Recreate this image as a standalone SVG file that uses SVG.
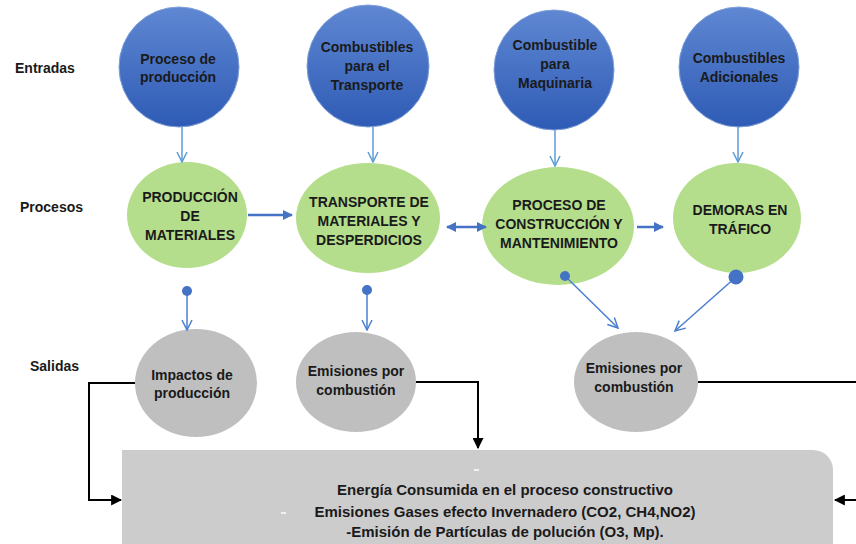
<svg xmlns="http://www.w3.org/2000/svg" width="856" height="544" viewBox="0 0 856 544">
<defs>
<linearGradient id="gBlue" x1="0" y1="0" x2="0" y2="1">
<stop offset="0" stop-color="#5f87d2"/>
<stop offset="1" stop-color="#2e5bb5"/>
</linearGradient>
<marker id="openArrow" viewBox="0 0 12 12" refX="11" refY="6" markerWidth="12" markerHeight="12" markerUnits="userSpaceOnUse" orient="auto">
<path d="M1,1 L11,6 L1,11" fill="none" stroke="#5b9bd5" stroke-width="1.5"/>
</marker>
<marker id="openArrow2" viewBox="0 0 12 12" refX="11" refY="6" markerWidth="12" markerHeight="12" markerUnits="userSpaceOnUse" orient="auto">
<path d="M1,1 L11,6 L1,11" fill="none" stroke="#4a7fd0" stroke-width="1.5"/>
</marker>
<marker id="dot" viewBox="0 0 12 12" refX="6" refY="6" markerWidth="10" markerHeight="10" markerUnits="userSpaceOnUse" orient="auto">
<circle cx="6" cy="6" r="6" fill="#4472c4"/>
</marker>
<marker id="dotBig" viewBox="0 0 12 12" refX="6" refY="6" markerWidth="15" markerHeight="15" markerUnits="userSpaceOnUse" orient="auto">
<circle cx="6" cy="6" r="6" fill="#4472c4"/>
</marker>
<marker id="solidBlue" viewBox="0 0 10 10" refX="9" refY="5" markerWidth="11" markerHeight="10" markerUnits="userSpaceOnUse" orient="auto-start-reverse">
<path d="M0,0 L10,5 L0,10 Z" fill="#4472c4"/>
</marker>
<marker id="solidBlack" viewBox="0 0 10 10" refX="9" refY="5" markerWidth="11" markerHeight="11" markerUnits="userSpaceOnUse" orient="auto">
<path d="M0,0 L10,5 L0,10 Z" fill="#000"/>
</marker>
</defs>
<style>
text{font-family:"Liberation Sans",Arial,sans-serif;font-weight:bold;fill:#1a1a1a;text-anchor:middle;font-size:14px}
.lbl{text-anchor:start}
.box{font-size:15px}
.inp{fill:url(#gBlue);stroke:#7f9fd8;stroke-width:1}
.proc{fill:#b4de8b}
.out{fill:#bfbfbf}
.lin{stroke:#5b9bd5;stroke-width:1.5;fill:none;marker-end:url(#openArrow)}
.olin{stroke:#4a7fd0;stroke-width:1.5;fill:none;marker-end:url(#openArrow2)}
.harr{stroke:#4472c4;stroke-width:2.5;fill:none}
.blk{stroke:#000;stroke-width:2;fill:none;marker-end:url(#solidBlack)}
</style>
<rect width="856" height="544" fill="#fff"/>

<g id="labels">
<text class="lbl" x="15" y="73">Entradas</text>
<text class="lbl" x="20" y="212">Procesos</text>
<text class="lbl" x="30" y="371">Salidas</text>
</g>

<g id="box">
<path d="M122,450 H813 A20,20 0 0 1 833,470 V560 H122 Z" fill="#cdcccd"/>
<line x1="281" y1="513" x2="286" y2="513" stroke="#fff" stroke-width="1.5"/>
<line x1="474" y1="470" x2="479" y2="470" stroke="#fff" stroke-width="1.5"/>
<text class="box" x="505" y="495">Energía Consumida en el proceso constructivo</text>
<text class="box" x="505" y="517">Emisiones Gases efecto Invernadero (CO2, CH4,NO2)</text>
<text class="box" x="505" y="537">-Emisión de Partículas de polución (O3, Mp).</text>
</g>

<g id="in1">
<circle class="inp" cx="179" cy="67" r="60"/>
<text x="178" y="64">Proceso de</text>
<text x="178" y="82">producción</text>
</g>
<g id="in2">
<circle class="inp" cx="368" cy="66" r="61"/>
<text x="367" y="52">Combustibles</text>
<text x="367" y="71">para el</text>
<text x="367" y="90">Transporte</text>
</g>
<g id="in3">
<circle class="inp" cx="554" cy="70" r="60"/>
<text x="555" y="50">Combustible</text>
<text x="555" y="69">para</text>
<text x="555" y="88">Maquinaria</text>
</g>
<g id="in4">
<circle class="inp" cx="739" cy="67" r="60"/>
<text x="739" y="63">Combustibles</text>
<text x="739" y="82">Adicionales</text>
</g>

<g id="p1">
<ellipse class="proc" cx="187" cy="215" rx="60" ry="53"/>
<text x="190" y="202">PRODUCCIÓN</text>
<text x="190" y="221">DE</text>
<text x="190" y="240">MATERIALES</text>
</g>
<g id="p2">
<ellipse class="proc" cx="368" cy="218" rx="72" ry="55"/>
<text x="369" y="207">TRANSPORTE DE</text>
<text x="369" y="226">MATERIALES Y</text>
<text x="369" y="245">DESPERDICIOS</text>
</g>
<g id="p3">
<ellipse class="proc" cx="558" cy="226" rx="76" ry="59"/>
<text x="559" y="210">PROCESO DE</text>
<text x="559" y="229">CONSTRUCCIÓN Y</text>
<text x="559" y="248">MANTENIMIENTO</text>
</g>
<g id="p4">
<ellipse class="proc" cx="737" cy="218" rx="64" ry="55"/>
<text x="740" y="215">DEMORAS EN</text>
<text x="740" y="234">TRÁFICO</text>
</g>

<g id="o1">
<ellipse class="out" cx="196" cy="383" rx="61" ry="54"/>
<text x="192" y="380">Impactos de</text>
<text x="192" y="398">producción</text>
</g>
<g id="o2">
<ellipse class="out" cx="356" cy="382" rx="60" ry="50"/>
<text x="356" y="376">Emisiones por</text>
<text x="356" y="395">combustión</text>
</g>
<g id="o3">
<ellipse class="out" cx="636" cy="382" rx="62" ry="50"/>
<text x="634" y="373">Emisiones por</text>
<text x="634" y="392">combustión</text>
</g>

<g id="connectors">
<line class="lin" x1="182" y1="127" x2="182" y2="162"/>
<line class="lin" x1="373" y1="127" x2="373" y2="162"/>
<line class="lin" x1="555" y1="130" x2="555" y2="166"/>
<line class="lin" x1="738" y1="127" x2="738" y2="162"/>
<line class="harr" x1="248" y1="215" x2="292" y2="215" marker-end="url(#solidBlue)"/>
<line class="harr" x1="447" y1="227" x2="486" y2="227" marker-start="url(#solidBlue)" marker-end="url(#solidBlue)"/>
<line class="harr" x1="637" y1="227" x2="663" y2="227" marker-end="url(#solidBlue)"/>
<line class="olin" x1="187" y1="291" x2="187" y2="330" marker-start="url(#dot)"/>
<line class="olin" x1="367" y1="290" x2="367" y2="330" marker-start="url(#dot)"/>
<line class="olin" x1="565" y1="276" x2="618" y2="328" marker-start="url(#dot)"/>
<line class="olin" x1="736" y1="277" x2="675" y2="331" marker-start="url(#dotBig)"/>
<path class="blk" d="M135,383 H89 V500 H121"/>
<path class="blk" d="M416,382 H478 V448"/>
<path d="M698,382 H856" stroke="#000" stroke-width="2" fill="none"/>
<line class="blk" x1="856" y1="500" x2="835" y2="500"/>
</g>
</svg>
